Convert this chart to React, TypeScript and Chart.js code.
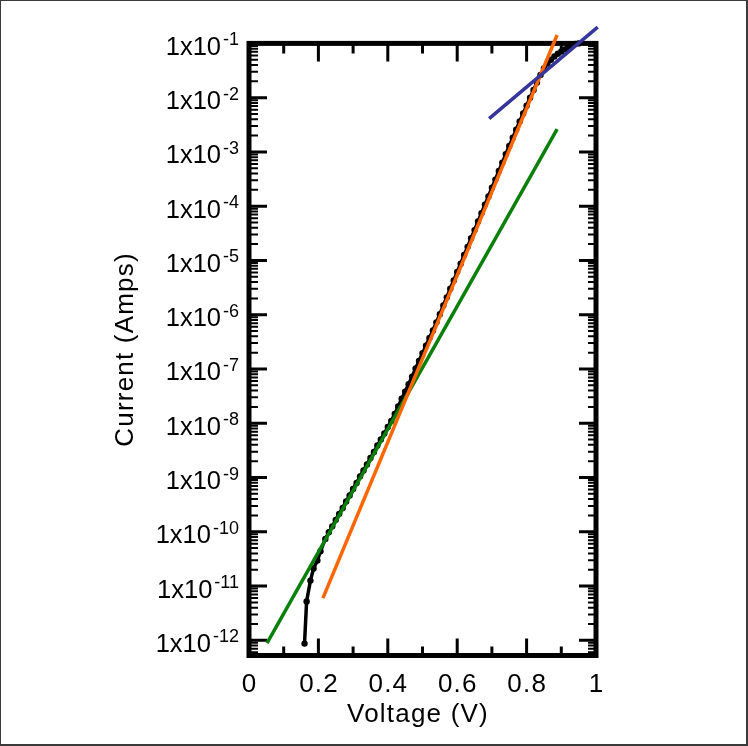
import { useEffect, useRef } from "react";
import { Chart, registerables } from "chart.js";

Chart.register(...registerables);

// Measured I-V data (black markers)
const voltage = [
  0.16, 0.166, 0.177, 0.186, 0.197, 0.206,
  0.22, 0.23, 0.24, 0.25, 0.26, 0.27, 0.28, 0.29, 0.3,
  0.31, 0.32, 0.33, 0.34, 0.35, 0.36, 0.37, 0.38, 0.39, 0.4,
  0.41, 0.42, 0.43, 0.44, 0.45, 0.46, 0.47, 0.48, 0.49, 0.5,
  0.51, 0.52, 0.53, 0.54, 0.55, 0.56, 0.57, 0.58, 0.59, 0.6,
  0.61, 0.62, 0.63, 0.64, 0.65, 0.66, 0.67, 0.68, 0.69, 0.7,
  0.71, 0.72, 0.73, 0.74, 0.75, 0.76, 0.77, 0.78, 0.79, 0.8,
  0.81, 0.82, 0.83, 0.84, 0.85, 0.86, 0.87, 0.88, 0.89, 0.9,
  0.91, 0.92, 0.93, 0.94, 0.95,
];
const current = [
  8.7e-13, 5.2e-12, 1.26e-11, 2.1e-11, 2.95e-11, 4.4e-11,
  7.4e-11, 9.8e-11, 1.26e-10, 1.66e-10, 2.14e-10, 2.75e-10, 3.63e-10, 4.68e-10, 6.17e-10,
  7.94e-10, 1.05e-9, 1.35e-9, 1.74e-9, 2.29e-9, 2.95e-9, 3.89e-9, 5.01e-9, 6.46e-9, 8.51e-9,
  1.1e-8, 1.48e-8, 2.04e-8, 2.82e-8, 3.8e-8, 5.25e-8, 7.24e-8, 1.02e-7, 1.41e-7, 1.95e-7,
  2.69e-7, 3.72e-7, 5.13e-7, 7.24e-7, 1.02e-6, 1.48e-6, 2.09e-6, 3.02e-6, 4.27e-6, 6.17e-6,
  8.71e-6, 1.26e-5, 1.78e-5, 2.57e-5, 3.63e-5, 5.25e-5, 7.41e-5, 1.07e-4, 1.51e-4, 2.19e-4,
  3.09e-4, 4.47e-4, 6.31e-4, 9.12e-4, 1.29e-3, 1.82e-3, 2.57e-3, 3.63e-3, 5.13e-3, 7.08e-3,
  1.0e-2, 1.38e-2, 1.91e-2, 2.63e-2, 3.47e-2, 4.27e-2, 5.01e-2, 5.75e-2, 6.46e-2, 7.08e-2,
  7.76e-2, 8.51e-2, 9.12e-2, 9.77e-2, 1.0e-1,
];

// Fitted lines (two end points each)
const greenFitV = [0.052, 0.888];
const greenFitI = [8.9e-13, 2.63e-3];
const orangeFitV = [0.213, 0.888];
const orangeFitI = [6.0e-12, 0.143];
const blueFitV = [0.692, 1.005];
const blueFitI = [4.1e-3, 0.2];

// Axes
const xMin = 0;
const xMax = 1;
const yMin = 5.25e-13;
const yMax = 1e-1;
const xMajorTicks = [0, 0.2, 0.4, 0.6, 0.8, 1];
const xTickLabels = ["0", "0.2", "0.4", "0.6", "0.8", "1"];
const xMinorTicks = [0.1, 0.3, 0.5, 0.7, 0.9];
const yDecadeExponents = [-1, -2, -3, -4, -5, -6, -7, -8, -9, -10, -11, -12, -13];
const yMinorMultipliers = [2, 3, 4, 5, 6, 7, 8, 9];
const xTitle = "Voltage (V)";
const yTitle = "Current (Amps)";

const FONT = '"Liberation Sans", Arial, Helvetica, sans-serif';

const toPoints = (xs: number[], ys: number[]) => xs.map((x, i) => ({ x, y: ys[i] }));

const axesPlugin = {
  id: "customAxes",
  beforeDatasetsDraw(chart: any) {
    const ctx = chart.ctx as CanvasRenderingContext2D;
    const xs = chart.scales.x;
    const ys = chart.scales.y;
    const { left, right, top, bottom } = chart.chartArea;
    ctx.save();
    ctx.strokeStyle = "#000";
    ctx.lineCap = "butt";

    // Y ticks
    yDecadeExponents.forEach((e) => {
      const major = Math.pow(10, e);
      if (major >= yMin && major <= yMax) {
        const py = ys.getPixelForValue(major);
        ctx.lineWidth = 3;
        ctx.beginPath();
        ctx.moveTo(left, py);
        ctx.lineTo(left + 18, py);
        ctx.moveTo(right, py);
        ctx.lineTo(right - 17, py);
        ctx.stroke();
      }
      yMinorMultipliers.forEach((m) => {
        const v = m * major;
        if (v < yMin || v > yMax) return;
        const py = ys.getPixelForValue(v);
        ctx.lineWidth = 2;
        ctx.beginPath();
        ctx.moveTo(left, py);
        ctx.lineTo(left + 9, py);
        ctx.moveTo(right, py);
        ctx.lineTo(right - 8, py);
        ctx.stroke();
      });
    });

    // X ticks
    xMajorTicks.forEach((v) => {
      const px = xs.getPixelForValue(v);
      ctx.lineWidth = 3;
      ctx.beginPath();
      ctx.moveTo(px, bottom);
      ctx.lineTo(px, bottom - 17);
      ctx.moveTo(px, top);
      ctx.lineTo(px, top + 18);
      ctx.stroke();
    });
    xMinorTicks.forEach((v) => {
      const px = xs.getPixelForValue(v);
      ctx.lineWidth = 3;
      ctx.beginPath();
      ctx.moveTo(px, bottom);
      ctx.lineTo(px, bottom - 9);
      ctx.moveTo(px, top);
      ctx.lineTo(px, top + 10);
      ctx.stroke();
    });

    // Box
    ctx.lineWidth = 5;
    ctx.strokeRect(left, top, right - left, bottom - top);

    // X tick labels
    ctx.fillStyle = "#000";
    ctx.font = `26px ${FONT}`;
    (ctx as any).letterSpacing = "1.2px";
    ctx.textAlign = "center";
    ctx.textBaseline = "alphabetic";
    xMajorTicks.forEach((v, i) => {
      const px = xs.getPixelForValue(v);
      ctx.fillText(xTickLabels[i], px + 0.6, 692);
    });

    // X title
    ctx.fillText(xTitle, 418, 722);

    // Y title
    ctx.save();
    ctx.translate(133, (top + bottom) / 2);
    ctx.rotate(-Math.PI / 2);
    ctx.fillText(yTitle, 0, 0);
    ctx.restore();
    (ctx as any).letterSpacing = "0px";

    // Y tick labels 1x10^e
    yDecadeExponents.forEach((e) => {
      const val = Math.pow(10, e);
      if (val < yMin || val > yMax) return;
      const py = ys.getPixelForValue(val);
      const base = "1x10";
      const sup = String(e);
      ctx.textAlign = "left";
      ctx.font = `18px ${FONT}`;
      const ws = ctx.measureText(sup).width;
      ctx.font = `25.5px ${FONT}`;
      const wb = ctx.measureText(base).width;
      const rightEdge = 239;
      const xs0 = rightEdge - ws;
      const xb0 = xs0 - 2 - wb;
      ctx.fillText(base, xb0, py + 11.5);
      ctx.font = `18px ${FONT}`;
      ctx.fillText(sup, xs0, py + 2);
    });

    ctx.restore();
  },
  afterDraw(chart: any) {
    const ctx = chart.ctx as CanvasRenderingContext2D;
    const w = chart.width;
    const h = chart.height;
    ctx.save();
    ctx.fillStyle = "#3a3a3a";
    ctx.fillRect(0, 0, w, 1);
    ctx.fillRect(0, 0, 1, h);
    ctx.fillRect(w - 2, 0, 2, h);
    ctx.fillRect(0, h - 2, w, 2);
    ctx.restore();
  },
};

export default function App() {
  const canvasRef = useRef<HTMLCanvasElement | null>(null);

  useEffect(() => {
    const canvas = canvasRef.current;
    if (!canvas) return;
    const chart = new Chart(canvas, {
      type: "scatter",
      data: {
        datasets: [
          {
            label: "fit high",
            data: toPoints(blueFitV, blueFitI),
            showLine: true,
            borderColor: "#35359a",
            borderWidth: 3.5,
            pointRadius: 0,
            clip: false,
          } as any,
          {
            label: "fit mid",
            data: toPoints(orangeFitV, orangeFitI),
            showLine: true,
            borderColor: "#ff6600",
            borderWidth: 3.5,
            pointRadius: 0,
            clip: false,
          },
          {
            label: "fit low",
            data: toPoints(greenFitV, greenFitI),
            showLine: true,
            borderColor: "#0a800a",
            borderWidth: 3.5,
            pointRadius: 0,
            clip: false,
          },
          {
            label: "measured",
            data: toPoints(voltage, current),
            showLine: true,
            borderColor: "#000",
            borderWidth: 3.5,
            pointRadius: 3.2,
            pointBackgroundColor: "#000",
            pointBorderColor: "#000",
            pointBorderWidth: 0,
            clip: false,
          },
        ],
      },
      options: {
        animation: false,
        responsive: false,
        maintainAspectRatio: false,
        devicePixelRatio: 1,
        layout: { padding: { left: 249, top: 43.4, right: 152, bottom: 90.5 } },
        plugins: { legend: { display: false }, tooltip: { enabled: false } },
        events: [],
        scales: {
          x: { type: "linear", min: xMin, max: xMax, display: false },
          y: { type: "logarithmic", min: yMin, max: yMax, display: false },
        },
      },
      plugins: [axesPlugin],
    });
    return () => chart.destroy();
  }, []);

  return (
    <div style={{ position: "fixed", left: 0, top: 0, width: 748, height: 746, background: "#fff" }}>
      <canvas ref={canvasRef} width={748} height={746} style={{ display: "block", width: 748, height: 746 }} />
    </div>
  );
}
